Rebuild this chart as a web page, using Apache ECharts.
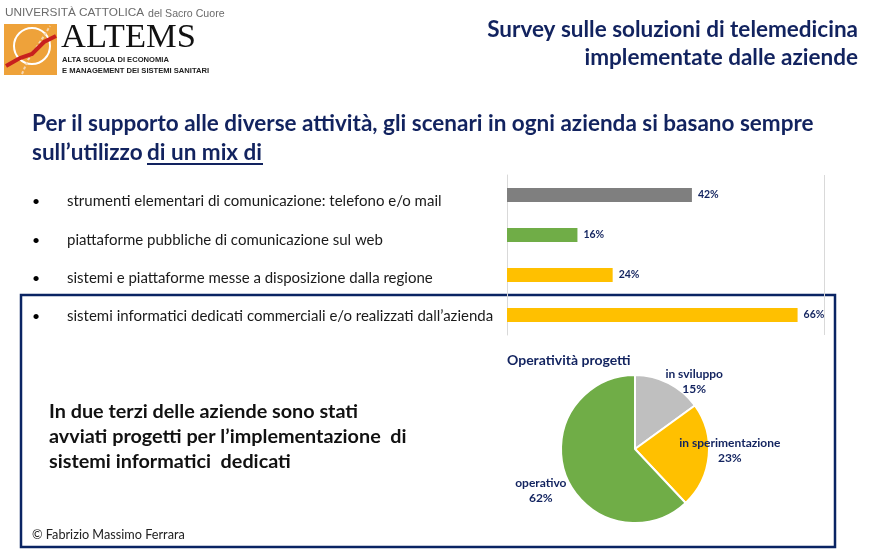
<!DOCTYPE html>
<html>
<head>
<meta charset="utf-8">
<script src="https://cdn.jsdelivr.net/npm/echarts@6/dist/echarts.min.js"></script>
<style>
  html, body { margin: 0; padding: 0; background: #fff; }
  #chart { width: 878px; height: 551px; }
</style>
</head>
<body>
<div id="chart"></div>
<script>
  // bar chart: tools used by the aziende
  const categories = [
    'strumenti elementari di comunicazione: telefono e/o mail',
    'piattaforme pubbliche di comunicazione sul web',
    'sistemi e piattaforme messe a disposizione dalla regione',
    'sistemi informatici dedicati commerciali e/o realizzati dall\u2019azienda'
  ]
  const shares = [42, 16, 24, 66]
  const barColors = ['#7f7f7f', '#70ad47', '#ffc000', '#ffc000']

  // pie: stato dei progetti
  const stati = ['in sviluppo', 'in sperimentazione', 'operativo']
  const statiPct = [15, 23, 62]
  const pieColors = ['#bfbfbf', '#ffc000', '#70ad47']

  const navy = '#12235f'
  const font = 'Lato, "Open Sans", sans-serif'
  const logoFont = '"Liberation Sans Narrow", "Liberation Sans", sans-serif'

  let myChart = echarts.init(document.getElementById('chart'))

  // the bullet list of the slide does not sit exactly on the bars
  const bulletY = [201, 240, 278, 316]
  // label nudges for the pie, to sit like in the slide
  const pieNudge = [[41, -32], [55, -2], [-57, 27]]

  let bullets = []
  categories.forEach((c, i) => {
    bullets.push({ type: 'text', x: 32, y: bulletY[i], style: { text: '\u2022', font: '14px ' + font, fill: '#000', textVerticalAlign: 'middle' } })
    bullets.push({ type: 'text', x: 67, y: bulletY[i], style: { text: c, font: '15px ' + font, fill: '#1a1a1a', textVerticalAlign: 'middle' } })
  })

  let option = {
    animation: false,
    backgroundColor: '#fff',
    textStyle: { fontFamily: font },
    grid: { left: 507, top: 175, width: 317, height: 160 },
    xAxis: {
      type: 'value',
      min: 0,
      max: 72,
      interval: 72,
      axisLabel: { show: false },
      axisLine: { show: false },
      axisTick: { show: false },
      splitLine: { lineStyle: { color: '#d9d9d9', width: 1 } }
    },
    yAxis: {
      type: 'category',
      inverse: true,
      data: categories,
      axisLine: { lineStyle: { color: '#d9d9d9' } },
      axisTick: { show: false },
      axisLabel: { show: false }
    },
    series: [
      {
        type: 'bar',
        barWidth: 14,
        data: shares.map((v, i) => ({ value: v, itemStyle: { color: barColors[i] } })),
        label: {
          show: true,
          position: 'right',
          distance: 6,
          formatter: '{c}%',
          color: navy,
          fontWeight: 'bold',
          fontSize: 10.5,
          fontFamily: font
        }
      },
      {
        type: 'pie',
        center: [635, 449],
        radius: 74,
        startAngle: 90,
        clockwise: true,
        data: stati.map((n, i) => ({ name: n, value: statiPct[i], itemStyle: { color: pieColors[i] } })),
        itemStyle: { borderColor: '#fff', borderWidth: 2 },
        label: {
          show: true,
          position: 'inside',
          formatter: '{b}\n{c}%',
          color: navy,
          fontWeight: 'bold',
          fontSize: 12,
          lineHeight: 15,
          fontFamily: font
        },
        labelLayout: p => ({ dx: pieNudge[p.dataIndex][0], dy: pieNudge[p.dataIndex][1] }),
        emphasis: { disabled: true }
      }
    ],
    graphic: [
      // logo
      { type: 'text', x: 5, y: 13, style: { text: 'UNIVERSIT\u00c0 CATTOLICA', font: '11.8px ' + logoFont, fill: '#6b6b6b', textVerticalAlign: 'middle' } },
      { type: 'text', x: 148, y: 14, style: { text: 'del Sacro Cuore', font: '10.6px ' + logoFont, fill: '#6b6b6b', textVerticalAlign: 'middle' } },
      { type: 'rect', shape: { x: 4, y: 24, width: 53, height: 51 }, style: { fill: '#eea23a' } },
      { type: 'circle', shape: { cx: 32, cy: 46, r: 18 }, style: { fill: 'none', stroke: '#fff', lineWidth: 2 } },
      { type: 'polyline', shape: { points: [[22, 74], [28, 60], [36, 48], [44, 36], [50, 26]] }, style: { stroke: '#f6d6b0', lineWidth: 2, fill: 'none', lineDash: [3, 2] } },
      { type: 'polyline', shape: { points: [[6, 66], [20, 58], [32, 54], [44, 42], [56, 36]] }, style: { stroke: '#c8201e', lineWidth: 4, fill: 'none' } },
      { type: 'text', x: 61, y: 38, style: { text: 'ALTEMS', font: '34.5px "Liberation Serif", serif', fill: '#111', textVerticalAlign: 'middle' } },
      { type: 'text', x: 62, y: 60, style: { text: 'ALTA SCUOLA DI ECONOMIA', font: 'bold 7.6px ' + logoFont, fill: '#222', textVerticalAlign: 'middle' } },
      { type: 'text', x: 62, y: 71, style: { text: 'E MANAGEMENT DEI SISTEMI SANITARI', font: 'bold 7.6px ' + logoFont, fill: '#222', textVerticalAlign: 'middle' } },
      // slide title
      { type: 'text', x: 858, y: 30, style: { text: 'Survey sulle soluzioni di telemedicina', font: 'bold 22.5px ' + font, fill: navy, textAlign: 'right', textVerticalAlign: 'middle' } },
      { type: 'text', x: 858, y: 58, style: { text: 'implementate dalle aziende', font: 'bold 22.5px ' + font, fill: navy, textAlign: 'right', textVerticalAlign: 'middle' } },
      // heading
      { type: 'text', x: 32, y: 124, style: { text: 'Per il supporto alle diverse attivit\u00e0, gli scenari in ogni azienda si basano sempre', font: 'bold 22.5px ' + font, fill: navy, textVerticalAlign: 'middle' } },
      { type: 'text', x: 32, y: 153, style: { text: 'sull\u2019utilizzo', font: 'bold 22.5px ' + font, fill: navy, textVerticalAlign: 'middle' } },
      { type: 'text', x: 147, y: 153, style: { text: 'di un mix di', font: 'bold 22.5px ' + font, fill: navy, textVerticalAlign: 'middle' } },
      { type: 'line', shape: { x1: 147, y1: 164, x2: 263, y2: 164 }, style: { stroke: navy, lineWidth: 2 } },
      ...bullets,
      // highlight box
      { type: 'rect', shape: { x: 21, y: 295, width: 814, height: 252 }, style: { fill: 'none', stroke: '#0a2463', lineWidth: 2.5 } },
      { type: 'text', x: 49, y: 399.5, style: { text: 'In due terzi delle aziende sono stati\navviati progetti per l\u2019implementazione  di\nsistemi informatici  dedicati', font: 'bold 19.8px ' + font, fill: '#111', lineHeight: 25, textVerticalAlign: 'top' } },
      { type: 'text', x: 507, y: 360, style: { text: 'Operativit\u00e0 progetti', font: 'bold 14px ' + font, fill: navy, textVerticalAlign: 'middle' } },
      { type: 'text', x: 32, y: 535, style: { text: '\u00a9 Fabrizio Massimo Ferrara', font: '12.7px ' + font, fill: '#222', textVerticalAlign: 'middle' } }
    ]
  }
  myChart.setOption(option)
</script>
</body>
</html>
